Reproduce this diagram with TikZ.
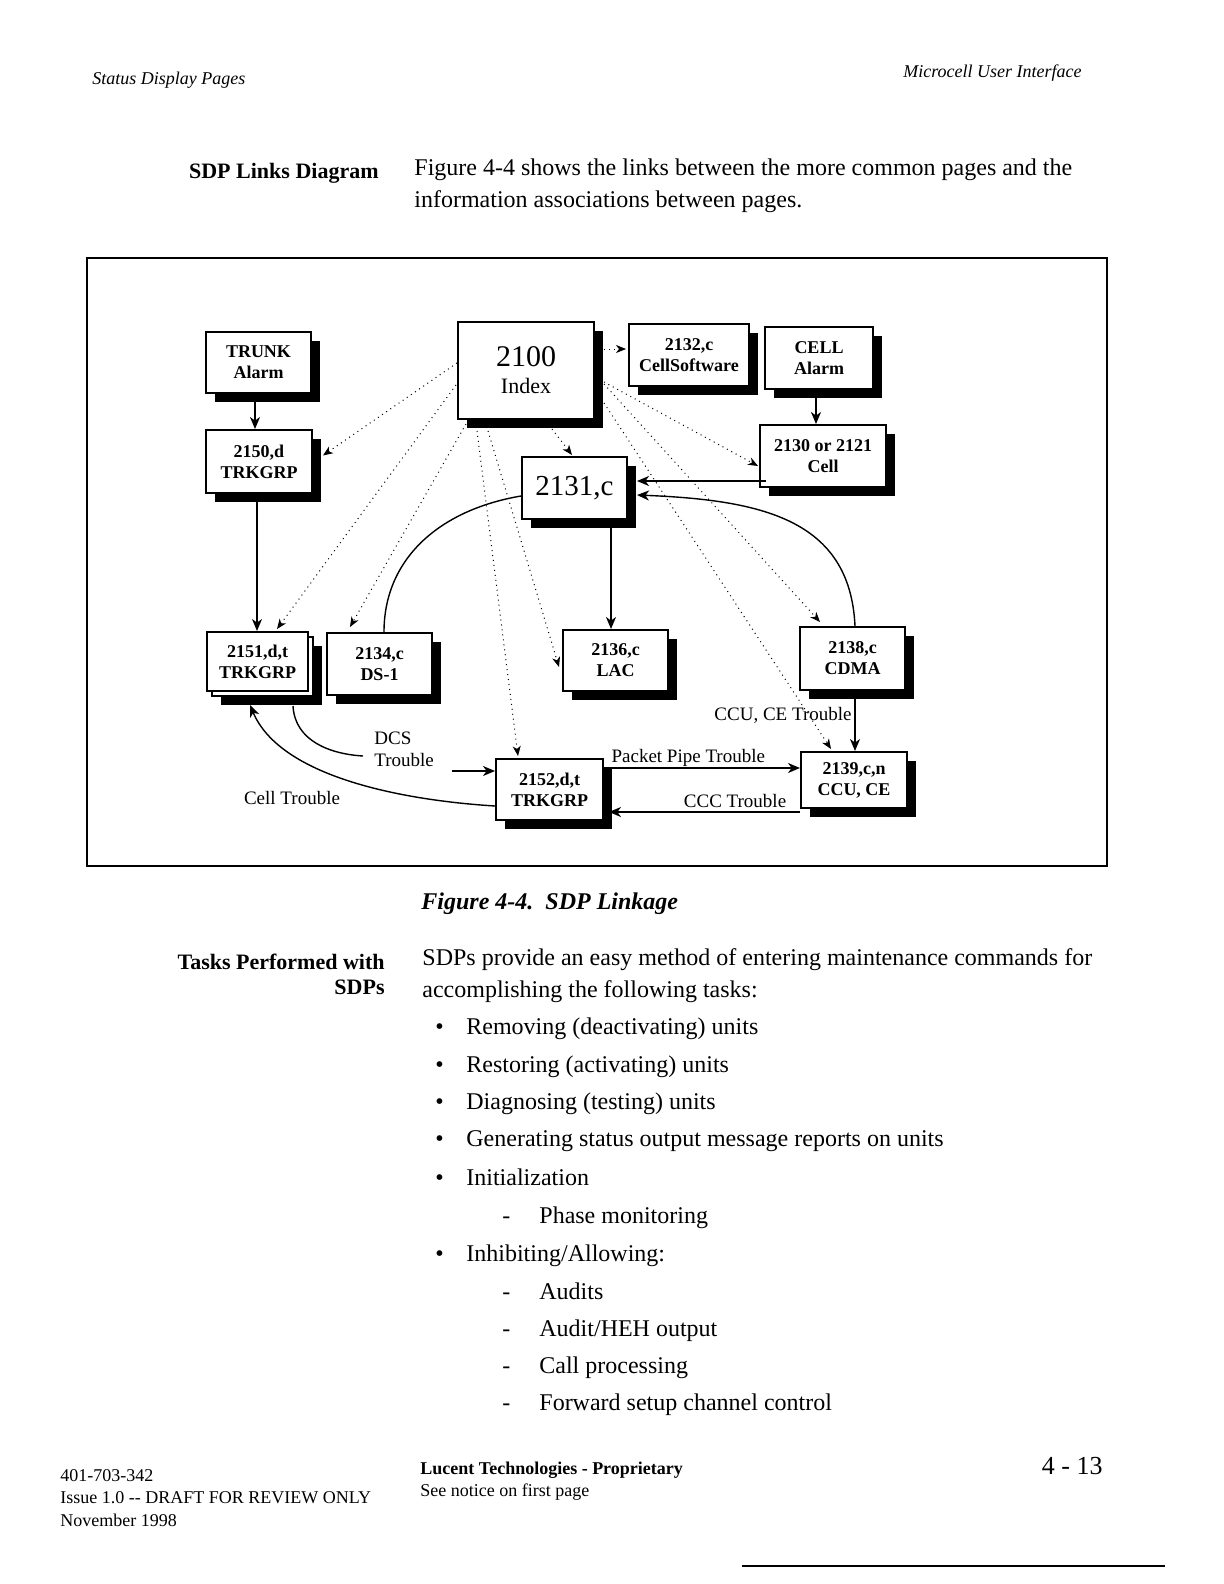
\documentclass[tikz,border=0pt]{standalone}
\usepackage{fontspec}
\setmainfont{Liberation Serif}
\usetikzlibrary{arrows.meta,calc,shadows}

\begin{document}
\begin{tikzpicture}[x=0.5pt,y=-0.5pt,>={Stealth[length=6pt,width=5pt,inset=1.8pt]},
  page/.style={draw,line width=1pt,fill=white,align=center,inner sep=1pt,
    font=\fontsize{9}{10.5}\selectfont\bfseries,
    drop shadow={shadow xshift=4.5pt,shadow yshift=-4.5pt,fill=black,opacity=1}},
  plain page/.style={draw,line width=1pt,fill=white,align=center,inner sep=1pt,
    font=\fontsize{9}{10.5}\selectfont\bfseries},
  box size/.style 2 args={minimum width=#1*0.5pt,minimum height=#2*0.5pt},
  wire/.style={->,line width=0.7pt},
  link/.style={line width=0.5pt,dotted,-{Stealth[length=5pt,width=4pt,inset=1.5pt]}},
  trouble/.style={font=\fontsize{9.5}{11}\selectfont,inner sep=1pt},
  body/.style={anchor=base west,inner sep=0pt,font=\fontsize{12}{14}\selectfont},
  side/.style={anchor=base east,inner sep=0pt,font=\fontsize{11}{13}\selectfont\bfseries},
  foot/.style={anchor=base west,inner sep=0pt,font=\fontsize{9}{11}\selectfont}]

  \useasboundingbox (0,0) rectangle (1224,1584);

  % page head
  \node[foot,font=\fontsize{9}{11}\selectfont\itshape] (hdleft) at (92,85) {Status Display Pages};
  \node[foot,anchor=base east,font=\fontsize{9}{11}\selectfont\itshape] (hdright) at (1082,78) {Microcell User Interface};

  \node[side] (sdphead) at (379,178) {SDP Links Diagram};
  \node[body] (intro1) at (414,175) {Figure 4-4 shows the links between the more common pages and the};
  \node[body] (intro2) at (414,207) {information associations between pages.};

  % figure frame
  \draw[line width=0.8pt] (87,258) rectangle (1107,866);

  % pages
  \node[page,box size={105}{61}] (trunk) at (258.5,362.5) {TRUNK\\Alarm};
  \node[page,box size={106}{63}] (p2150) at (259,461.5) {2150,d\\TRKGRP};
  \node[page,box size={136}{97},font=\fontsize{11}{13}\selectfont] (p2100) at (526,370.5)
    {{\fontsize{15}{17}\selectfont 2100}\\[0.5pt]Index};
  \node[page,box size={120}{62}] (p2132) at (689,355) {2132,c\\CellSoftware};
  \node[page,box size={108}{62}] (cellalarm) at (819,358) {CELL\\Alarm};
  \node[page,box size={126}{62}] (p2130) at (823,456) {2130 or 2121\\Cell};
  \node[page,box size={105}{62},font=\fontsize{14.5}{16}\selectfont] (p2131) at (574.5,488) {2131,c};
  \node[page,box size={101}{59}] (p2151b) at (262.5,666.5) {};
  \node[plain page,box size={101}{59}] (p2151) at (257.5,661.5) {2151,d,t\\TRKGRP};
  \node[page,box size={105}{62}] (p2134) at (379.5,664) {2134,c\\DS-1};
  \node[page,box size={105}{61}] (p2136) at (615.5,660.5) {2136,c\\LAC};
  \node[page,box size={105}{63}] (p2138) at (852.5,658.5) {2138,c\\CDMA};
  \node[page,box size={107}{61}] (p2152) at (549.5,789.5) {2152,d,t\\TRKGRP};
  \node[page,box size={106}{56}] (p2139) at (854,780) {2139,c,n\\CCU, CE};

  % solid links
  \draw[wire] ($(trunk.south)+(-3.5,0)$) -- ($(p2150.north)+(-4,0)$);
  \draw[wire] ($(p2150.south)+(-2,0)$) -- ($(p2151.north)+(-0.5,0)$);
  \draw[wire] ($(cellalarm.south)+(-3,0)$) -- ($(p2130.north)+(-7,0)$);
  \draw[wire] ($(p2130.west)+(7,25)$) -- ($(p2131.east)+(9,-7)$);
  \draw[wire] ($(p2131.south)+(36.5,0)$) -- ($(p2136.north)+(-4.5,0)$);
  \draw[wire] ($(p2138.north)+(2.5,0)$) .. controls ($(p2138.north)+(-2.5,-107)$)
    and ($(p2131.east)+(133,12)$) .. ($(p2131.east)+(9,7)$);
  \draw[line width=0.7pt] ($(p2134.north)+(4.5,0)$) .. controls ($(p2134.north)+(4.5,-73)$)
    and ($(p2131.west)+(-82,22)$) .. ($(p2131.west)+(0,8)$);
  \draw[wire] ($(p2138.south)+(2.5,0)$) -- ($(p2139.north)+(1,0)$);
  \draw[wire] ($(p2152.east)+(0,-21.5)$) --
    node[trouble,above,pos=0.43,inner sep=0.5pt] (pipe) {Packet Pipe Trouble} ($(p2139.west)+(0,-12)$);
  \draw[wire] ($(p2139.west)+(0,32)$) --
    node[trouble,above,pos=0.34,inner sep=2pt] (ccc) {CCC Trouble} ($(p2152.east)+(5,22.5)$);
  \draw[wire] ($(p2152.west)+(0,16.5)$) .. controls ($(p2152.west)+(-96,10.5)$)
    and ($(p2151.south)+(22.5,84)$) .. ($(p2151.south)+(-7.5,13)$);

  \node[trouble] (celltrouble) at (292,798) {Cell Trouble};
  \node[trouble,align=left,anchor=west] (dcs) at (372,749) {DCS\\Trouble};
  \node[trouble] (ccutrouble) at (783,715) {CCU, CE Trouble};

  \draw[line width=0.7pt] ($(p2151.south)+(35.5,14)$) .. controls ($(p2151.south)+(37.5,49)$)
    and ($(dcs.west)+(-42,5)$) .. ($(dcs.west)+(-9,7)$);
  \coordinate (dcsin) at ($(p2152.west)+(-43,-18.5)$);
  \draw[wire] (dcsin) -- ($(p2152.west)+(0,-18.5)$);

  % dotted links from the index page
  \draw[link] ($(p2100.west)+(0,-7.5)$) -- ($(p2150.east)+(10,-6)$);
  \draw[link] ($(p2100.west)+(-1,14.5)$) -- ($(p2151.north)+(19.5,-2)$);
  \draw[link] ($(p2100.south west)+(9,4)$) -- ($(p2134.north)+(-29.5,-5)$);
  \draw[link] ($(p2100.south)+(-49,11)$) -- ($(p2152.north)+(-31.5,-2)$);
  \draw[link] ($(p2100.south)+(-38,11)$) -- ($(p2136.west)+(-3,6.5)$);
  \draw[link] ($(p2100.south)+(26,9)$) -- ($(p2131.north)+(-2.5,-1)$);
  \draw[link] ($(p2100.east)+(9,-21.5)$) -- ($(p2132.west)+(-2,-6)$);
  \draw[link] ($(p2100.east)+(9,11.5)$) -- ($(p2130.west)+(-1,10)$);
  \draw[link] ($(p2100.east)+(9,13.5)$) -- ($(p2138.north)+(-32.5,-4)$);
  \draw[link] ($(p2100.east)+(9,32.5)$) -- ($(p2139.north)+(-23,-2)$);

  % caption and task list
  \node[body,font=\fontsize{12}{14}\selectfont\bfseries\itshape] (caption) at (421,909) {Figure 4-4.\ \ SDP Linkage};
  \node[side] (taskhead1) at (385,969) {Tasks Performed with};
  \node[side] (taskhead2) at (385,994) {SDPs};
  \node[body] (tasks1) at (422,965) {SDPs provide an easy method of entering maintenance commands for};
  \node[body] (tasks2) at (422,997) {accomplishing the following tasks:};

  \foreach \y/\txt [count=\i] in {1034/{Removing (deactivating) units},
      1072/{Restoring (activating) units}, 1109/{Diagnosing (testing) units},
      1146/{Generating status output message reports on units}, 1185/{Initialization},
      1261/{Inhibiting/Allowing:}} {
    \node[body] (dot\i) at (435,\y) {\textbullet};
    \node[body] (item\i) at (466,\y) {\txt};
  }
  \foreach \y/\txt [count=\i] in {1223/{Phase monitoring}, 1299/{Audits},
      1336/{Audit/HEH output}, 1373/{Call processing}, 1410/{Forward setup channel control}} {
    \node[body] (dash\i) at (502,\y) {-};
    \node[body] (sub\i) at (539,\y) {\txt};
  }

  % page foot
  \node[foot] (docno) at (60,1481) {401-703-342};
  \node[foot] (issue) at (60,1503) {Issue 1.0 -{}- DRAFT FOR REVIEW ONLY};
  \node[foot] (date) at (60,1526) {November 1998};
  \node[foot,font=\fontsize{9}{11}\selectfont\bfseries] (lucent) at (420,1474) {Lucent Technologies - Proprietary};
  \node[foot] (notice) at (420,1496) {See notice on first page};
  \node[foot,anchor=base east,font=\fontsize{13}{15}\selectfont] (pageno) at (1103,1474) {4 - 13};
  \draw[line width=0.6pt] (742,1566) -- (1165,1566);
\end{tikzpicture}
\end{document}
